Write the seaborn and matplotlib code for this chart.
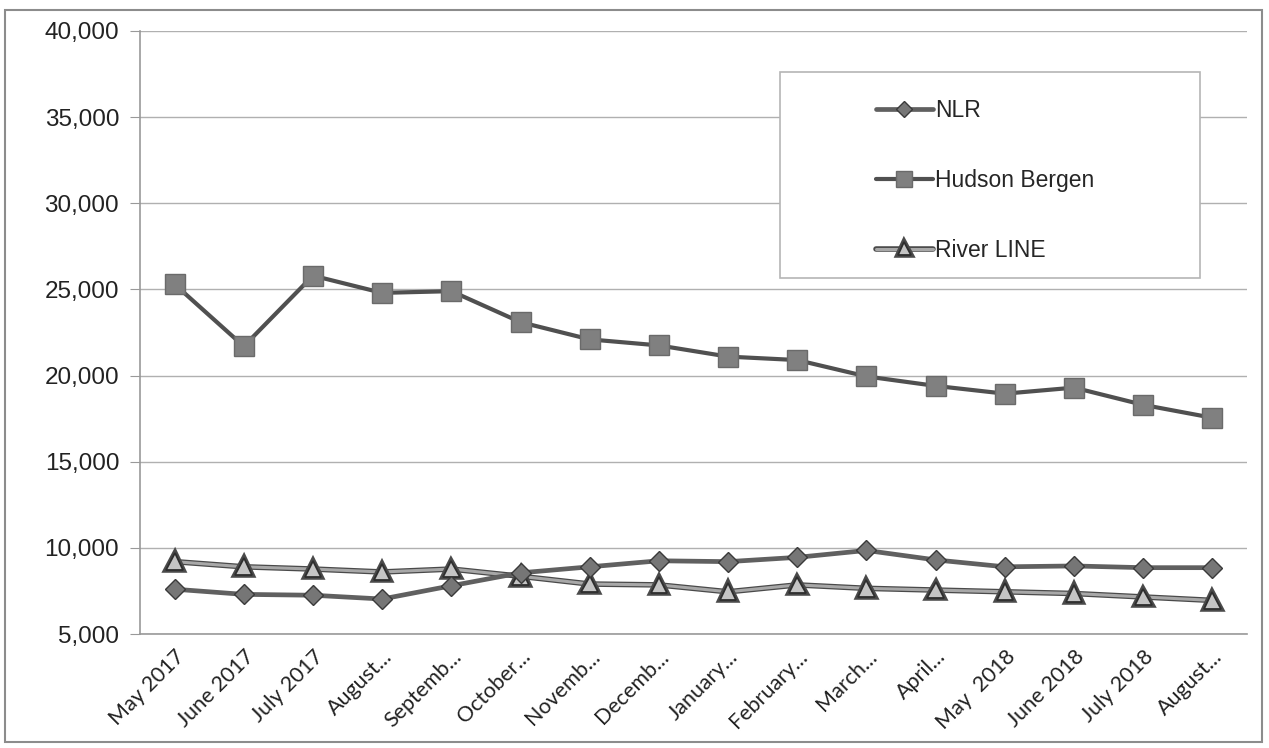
import pandas as pd
import numpy as np
import matplotlib
matplotlib.use("Agg")
import matplotlib.pyplot as plt
import matplotlib.patheffects as pe
from matplotlib.patches import Rectangle
import seaborn as sns

# Data
months = ["May 2017", "June 2017", "July 2017", "August 2017", "September 2017",
          "October 2017", "November 2017", "December 2017", "January 2018",
          "February 2018", "March 2018", "April 2018", "May 2018", "June 2018",
          "July 2018", "August 2018"]
tick_labels = ["May 2017", "June 2017", "July 2017", "August...", "Septemb...",
               "October...", "Novemb...", "Decemb...", "January...", "February...",
               "March...", "April...", "May  2018", "June 2018", "July 2018", "August..."]
nlr = [7600, 7300, 7250, 7030, 7800, 8550, 8900, 9250, 9200, 9450, 9850,
       9300, 8900, 8950, 8850, 8850]
hudson_bergen = [25300, 21700, 25800, 24800, 24900, 23100, 22100, 21750, 21100,
                 20900, 19950, 19400, 18950, 19300, 18300, 17550]
river_line = [9200, 8900, 8770, 8600, 8770, 8350, 7900, 7850, 7450, 7850, 7650,
              7550, 7450, 7350, 7150, 6950]

df = pd.DataFrame({"month": months, "pos": np.arange(len(months)),
                   "NLR": nlr, "Hudson Bergen": hudson_bergen, "River LINE": river_line})

sns.set_style("white")
plt.rcParams["font.family"] = ["Liberation Sans", "DejaVu Sans"]

fig = plt.figure(figsize=(12.69, 7.48), dpi=100)
ax = fig.add_axes([140 / 1269, 1 - 634 / 748, (1247 - 140) / 1269, (634 - 31) / 748])

sns.lineplot(data=df, x="pos", y="NLR", ax=ax, color="#606060", linewidth=3.4,
             marker="D", markersize=10, markerfacecolor="#767676",
             markeredgecolor="#3a3a3a", markeredgewidth=1, label="NLR", zorder=4)
sns.lineplot(data=df, x="pos", y="Hudson Bergen", ax=ax, color="#505050", linewidth=3,
             marker="s", markersize=14, markerfacecolor="#808080",
             markeredgecolor="#6a6a6a", markeredgewidth=1, label="Hudson Bergen", zorder=4)
sns.lineplot(data=df, x="pos", y="River LINE", ax=ax, color="#a8a8a8", linewidth=2.2,
             marker="^", markersize=12, markerfacecolor="#c4c4c4",
             markeredgecolor="#2e2e2e", markeredgewidth=1.3, label="River LINE", zorder=3,
             path_effects=[pe.withStroke(linewidth=4, foreground="#4a4a4a")])

ax.set_xlim(-0.5, len(months) - 0.5)
ax.set_ylim(5000, 40000)
ax.set_yticks(np.arange(5000, 40001, 5000))
ax.set_yticklabels([f"{v:,}" for v in range(5000, 40001, 5000)], fontsize=17.5, color="#222222")
ax.yaxis.grid(True, color="#b0b0b0", linewidth=1)
ax.xaxis.grid(False)

# category labels at centres, tick marks at boundaries (Excel style)
ax.set_xticks(df["pos"])
ax.set_xticklabels(tick_labels, rotation=45, ha="right", rotation_mode="anchor",
                   fontsize=15.5, family=["Lato", "DejaVu Sans"], color="#222222")
ax.tick_params(axis="x", length=0, pad=9)
ax.set_xticks(np.arange(-0.5, len(months), 1), minor=True)
ax.tick_params(axis="x", which="minor", length=6, color="#999999", direction="out")
ax.tick_params(axis="y", length=7, color="#999999", direction="out", left=True, pad=8)

ax.set_xlabel("")
ax.set_ylabel("")
for side in ["top", "right"]:
    ax.spines[side].set_visible(False)
for side in ["left", "bottom"]:
    ax.spines[side].set_color("#999999")
    ax.spines[side].set_linewidth(1.2)

# legend box
ax.add_patch(Rectangle((780 / 1269, 1 - 278 / 748), 420 / 1269, 206 / 748,
                       transform=fig.transFigure, facecolor="white", clip_on=False,
                       edgecolor="#b5b5b5", linewidth=1.2, zorder=5))
leg = ax.legend(loc="upper left", bbox_to_anchor=(855 / 1269, 1 - 78 / 748),
                bbox_transform=fig.transFigure, frameon=False, fontsize=16.5,
                handlelength=2.5, handletextpad=0.1, labelspacing=2.05,
                markerscale=0.8)
leg.set_zorder(6)

# outer chart border
fig.patches.append(Rectangle((5 / 1269, 6 / 748), 1257 / 1269, 732 / 748,
                             transform=fig.transFigure, fill=False,
                             edgecolor="#8c8c8c", linewidth=1.5))

fig.savefig("out.png", dpi=100)
